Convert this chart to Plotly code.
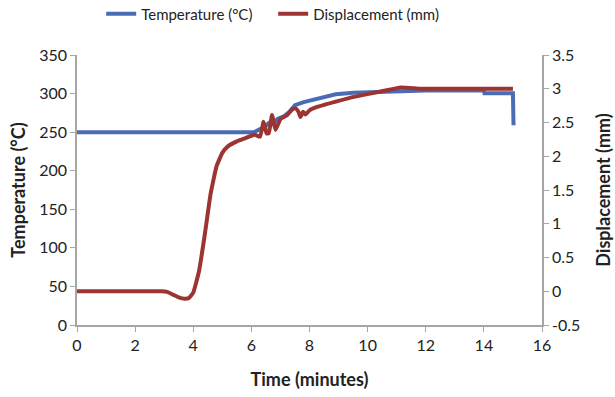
import plotly.graph_objects as go

# Temperature series (minutes, °C)
temp_t = [0, 6.1, 6.3, 6.45, 6.6, 6.75, 6.9, 7.1, 7.3, 7.5, 7.8, 8.3, 8.9, 9.5, 10.2, 11, 12, 13, 14.0, 14.02, 15.0, 15.02]
temp_v = [250, 250, 254, 256, 262, 261, 267, 270, 276, 285, 289, 293, 299, 301, 302, 303, 304, 304, 304, 300.5, 300.5, 259]

# Displacement series (minutes, mm)
disp_t = [0, 2.9, 3.1, 3.3, 3.5, 3.7, 3.85, 4.0, 4.2, 4.4, 4.6, 4.8, 5.0, 5.2, 5.5, 5.8, 6.1, 6.3, 6.42, 6.52, 6.6,
          6.71, 6.83, 7.0, 7.23, 7.4, 7.52, 7.62, 7.69, 7.78, 7.86, 8.0, 8.26, 9.0, 9.53, 10.45, 11.14,
          11.83, 13, 14, 15]
disp_v = [0, 0, -0.01, -0.05, -0.09, -0.11, -0.1, -0.02, 0.3, 0.85, 1.45, 1.85, 2.05, 2.15, 2.22, 2.27, 2.32, 2.29, 2.51, 2.34, 2.34,
          2.61, 2.39, 2.55, 2.61, 2.69, 2.71, 2.66, 2.58, 2.66, 2.62, 2.68, 2.73, 2.82, 2.88, 2.96, 3.02,
          3.0, 3.0, 3.0, 3.0]

x_ticks = [0, 2, 4, 6, 8, 10, 12, 14, 16]
y2_ticks = [-0.5, 0, 0.5, 1, 1.5, 2, 2.5, 3, 3.5]
y2_labels = ["-0.5", "0", "0.5", "1", "1.5", "2", "2.5", "3", "3.5"]

FONT = "Lato"
AXIS_COL = "#a6a6a6"

fig = go.Figure()
fig.add_trace(go.Scatter(x=temp_t, y=temp_v, mode="lines", name="Temperature (°C)",
                         line=dict(color="#4a6cb4", width=4), yaxis="y"))
fig.add_trace(go.Scatter(x=disp_t, y=disp_v, mode="lines", name="Displacement (mm)",
                         line=dict(color="#9c3532", width=4, shape="spline", smoothing=0.35), yaxis="y2"))

fig.update_layout(
    width=615, height=397,
    margin=dict(l=77, r=73, t=55, b=72, autoexpand=False),
    paper_bgcolor="white", plot_bgcolor="white",
    font=dict(family=FONT, size=16, color="#222222"),
    legend=dict(orientation="h", x=0.052, y=1.152, xanchor="left", yanchor="middle",
                xref="paper", font=dict(size=15), itemwidth=30, tracegroupgap=0,
                entrywidth=127, entrywidthmode="pixels",
                bgcolor="rgba(0,0,0,0)"),
    xaxis=dict(range=[0, 16], tickvals=x_ticks, showline=True, linecolor=AXIS_COL, linewidth=1.5,
               ticks="outside", tickcolor=AXIS_COL, ticklen=5, showgrid=False, zeroline=False,
               title=dict(text="<b>Time (minutes)</b>", font=dict(size=18), standoff=20)),
    yaxis=dict(range=[0, 350], dtick=50, showline=True, linecolor=AXIS_COL, linewidth=1.5,
               ticks="outside", tickcolor=AXIS_COL, ticklen=5, showgrid=False, zeroline=False,
               title=dict(text="<b>Temperature (°C)</b>", font=dict(size=18), standoff=9)),
    yaxis2=dict(range=[-0.5, 3.5], tickvals=y2_ticks, ticktext=y2_labels, overlaying="y", side="right",
                showline=True, linecolor=AXIS_COL, linewidth=1.5, ticks="outside", tickcolor=AXIS_COL,
                ticklen=5, showgrid=False, zeroline=False,
                title=dict(text="<b>Displacement (mm)</b>", font=dict(size=18), standoff=18)),
)

fig.write_html("out.html")
